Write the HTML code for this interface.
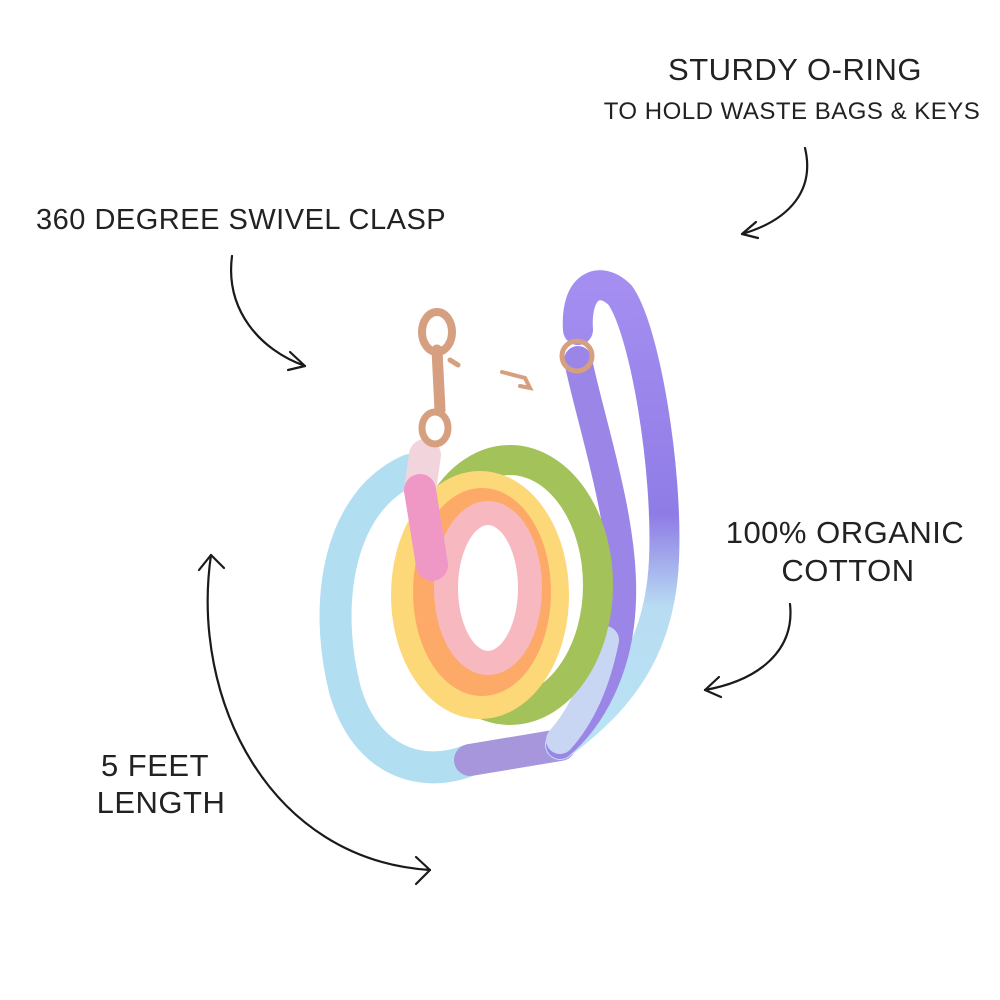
<!DOCTYPE html>
<html><head><style>
html,body{margin:0;padding:0;background:#fff;width:1000px;height:1000px;overflow:hidden}
svg{display:block}
text{font-family:"Liberation Sans",sans-serif;fill:#222;font-weight:300;letter-spacing:0.5px}
</style></head><body>
<svg width="1000" height="1000" viewBox="0 0 1000 1000" xmlns="http://www.w3.org/2000/svg">
<defs>
<linearGradient id="pg" x1="0" y1="0" x2="0" y2="1">
<stop offset="0" stop-color="#a48ef0"/><stop offset="0.5" stop-color="#8f7ce6"/><stop offset="0.7" stop-color="#b8dcf2"/><stop offset="1" stop-color="#b9e3f4"/>
</linearGradient>
</defs>
<text x="795" y="80" font-size="31" text-anchor="middle">STURDY O-RING</text>
<text x="792" y="119" font-size="24" text-anchor="middle">TO HOLD WASTE BAGS &amp; KEYS</text>
<text x="36" y="229" font-size="29">360 DEGREE SWIVEL CLASP</text>
<text x="845" y="543" font-size="31" text-anchor="middle">100% ORGANIC</text>
<text x="848" y="581" font-size="31" text-anchor="middle">COTTON</text>
<text x="155" y="776" font-size="31" text-anchor="middle">5 FEET</text>
<text x="161" y="813" font-size="31" text-anchor="middle">LENGTH</text>
<g fill="none" stroke="#1a1a1a" stroke-width="2.2" stroke-linecap="round">
<path d="M805 148 C815 190 790 220 742 234"/><path d="M742 234 L756 222 M742 234 L758 238"/>
<path d="M232 256 C225 310 260 350 305 366"/><path d="M305 366 L290 352 M305 366 L288 370"/>
<path d="M790 604 C795 650 760 680 705 690"/><path d="M705 690 L719 677 M705 690 L721 697"/>
<path d="M211 555 C190 700 270 860 430 870"/><path d="M211 555 L199 570 M211 555 L224 568"/><path d="M430 870 L416 857 M430 870 L416 884"/>
</g>
<g fill="none" stroke-linecap="round">
<path d="M410 470 C340 500 322 600 345 690 C365 760 420 780 470 760" stroke="#b2def2" stroke-width="32"/>
<path d="M470 760 L560 745" stroke="#a896dc" stroke-width="32"/>
<path d="M560 745 C620 700 660 650 664 560 C668 470 645 330 620 295 C600 275 575 285 578 330" stroke="url(#pg)" stroke-width="30"/>
<path d="M578 360 C590 420 625 520 622 600 C620 670 590 720 560 745" stroke="#9b86e8" stroke-width="28"/>
<path d="M605 640 C595 690 578 720 560 740" stroke="#c8d6f4" stroke-width="28"/>
<ellipse cx="510" cy="585" rx="88" ry="125" stroke="#a4c25a" stroke-width="30"/>
<ellipse cx="480" cy="595" rx="75" ry="110" stroke="#fdd878" stroke-width="28"/>
<ellipse cx="482" cy="592" rx="57" ry="92" stroke="#fdaa68" stroke-width="24"/>
<ellipse cx="488" cy="588" rx="42" ry="75" stroke="#f7b8c0" stroke-width="24"/>
<path d="M425 455 L420 490" stroke="#f2d4dc" stroke-width="32"/>
<path d="M420 490 L432 565" stroke="#ef98c6" stroke-width="32"/>
</g>
<g stroke="#d69f80" fill="none" stroke-linecap="round">
<ellipse cx="437" cy="332" rx="15" ry="20" stroke-width="8"/>
<path d="M437 350 L440 410" stroke-width="11"/>
<ellipse cx="435" cy="428" rx="13" ry="16" stroke-width="7"/>
<path d="M450 360 L458 365" stroke-width="5"/>
<circle cx="577" cy="356" r="15" stroke-width="5"/>
<path d="M502 372 L525 378 L530 388 L520 386" stroke-width="4"/>
</g>
</svg>
</body></html>
